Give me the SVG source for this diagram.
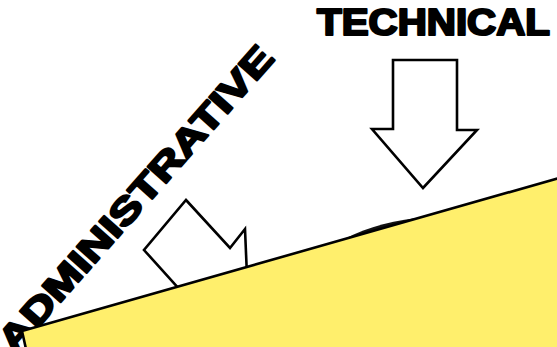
<svg xmlns="http://www.w3.org/2000/svg" width="557" height="347" viewBox="0 0 557 347">
  <style>
    .label { font-family: "Liberation Sans", Arial, sans-serif; font-weight: bold; font-size: 36px; fill: #000; stroke: #000; stroke-width: 2.2px; stroke-linejoin: round; }
    .arrow { fill: #fff; stroke: #000; stroke-width: 2.6; stroke-linejoin: miter; }
    .panel { fill: #FFEF6C; stroke: #000; stroke-width: 2.6; stroke-linejoin: miter; }
  </style>
  <rect width="557" height="347" fill="#fff"/>
  <g id="technical">
    <text class="label" x="317" y="35" textLength="233" lengthAdjust="spacingAndGlyphs">TECHNICAL</text>
  </g>
  <g id="connectors">
    <polygon id="technical-arrow" class="arrow" points="393,60 457,60 457,130 477,130 423,188 372,129 393,129"/>
    <polygon id="admin-arrow" class="arrow" points="186,200 230,248 245,229 248,300 200,312 144,250"/>
  </g>
  <g id="administrative">
    <text class="label" x="0" y="0" textLength="395" lengthAdjust="spacingAndGlyphs" transform="translate(14,355) rotate(-48.5)">ADMINISTRATIVE</text>
  </g>
  <g id="dome">
    <path d="M338,243 C358,230 385,222 416,218 L416,228 L338,248 Z" fill="#111"/>
  </g>
  <g id="panel">
    <polygon class="panel" points="22,331 559,178 559,349 26,349"/>
  </g>
</svg>
